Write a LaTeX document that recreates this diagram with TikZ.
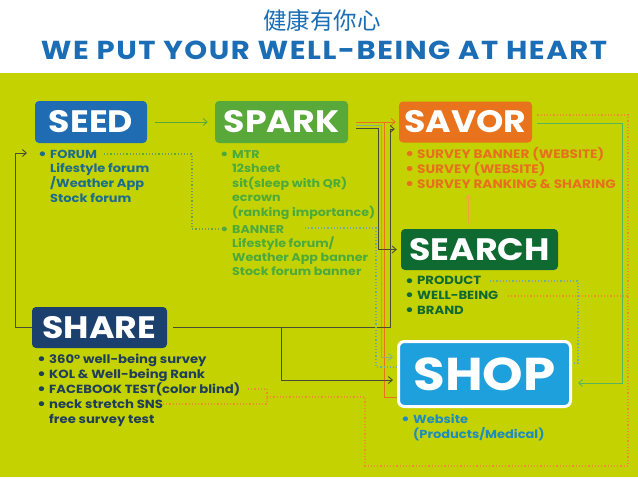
\documentclass[tikz,border=0pt]{standalone}
\usepackage{fontspec}
\setmainfont{Poppins}[FakeStretch=1.12]
\newfontfamily\cjkfont{Noto Sans CJK TC}
\usetikzlibrary{arrows.meta}

\definecolor{panel}{RGB}{197,210,2}
\definecolor{titleblue}{RGB}{27,110,182}
\definecolor{seedblue}{RGB}{31,108,178}
\definecolor{seedtext}{RGB}{28,108,140}
\definecolor{sparkgreen}{RGB}{88,168,58}
\definecolor{sparktext}{RGB}{76,170,60}
\definecolor{savororange}{RGB}{232,115,28}
\definecolor{savortext}{RGB}{230,112,30}
\definecolor{searchgreen}{RGB}{14,106,48}
\definecolor{searchtext}{RGB}{16,104,50}
\definecolor{sharenavy}{RGB}{28,64,110}
\definecolor{sharetext}{RGB}{30,62,90}
\definecolor{shopblue}{RGB}{30,160,220}
\definecolor{shoptext}{RGB}{30,140,190}
\definecolor{darkline}{RGB}{72,76,48}
\definecolor{grayline}{RGB}{135,175,150}
\definecolor{savorgreen}{RGB}{90,180,90}
\definecolor{dotgreen}{RGB}{110,160,70}
\definecolor{orangedot}{RGB}{232,145,40}
\definecolor{orangethin}{RGB}{240,160,60}
\definecolor{tealdot}{RGB}{115,170,160}

\newcommand\itemdot{\makebox[12pt][l]{\raisebox{-0.1em}{\scalebox{1.35}{\textbullet}}}}
\newcommand\itemgap{\hspace*{12pt}}

\tikzset{
  stagebox/.style={rectangle, rounded corners=4pt, text=white, inner sep=0pt, font=\fontsize{31}{31}\selectfont\bfseries},
  itemlist/.style={anchor=base west, align=left, inner sep=0pt, font=\fontsize{11.6}{15}\selectfont\bfseries},
  arrowline/.style={line width=0.9pt, -{Straight Barb[length=4pt,width=7pt]}},
  bareline/.style={line width=0.9pt},
  dotline/.style={dotted, line width=1.2pt}
}

\begin{document}
\begin{tikzpicture}[x=1pt,y=-1pt]
\useasboundingbox (0,0) rectangle (638,479);
\fill[white] (0,0) rectangle (638,479);
\fill[panel] (0,73) rectangle (638,477);

\node[text=titleblue, font=\cjkfont\fontsize{23.5}{23.5}\selectfont] (cntitle) at (322,21) {健康有你心};
\node[text=titleblue, font=\fontsize{26}{26}\selectfont\bfseries\addfontfeatures{LetterSpace=6}] (entitle) at (324,50) {WE PUT YOUR WELL-BEING AT HEART};

\node[stagebox, fill=seedblue, minimum width=112pt, minimum height=42pt] (seed) at (91,122) {SEED};
\node[stagebox, fill=sparkgreen, minimum width=133pt, minimum height=42pt] (spark) at (281.5,122) {SPARK};
\node[stagebox, fill=savororange, minimum width=133pt, minimum height=41pt] (savor) at (465.5,122) {SAVOR};
\node[stagebox, fill=searchgreen, minimum width=157pt, minimum height=41pt] (search) at (479.5,249.5) {SEARCH};
\node[stagebox, fill=sharenavy, minimum width=135pt, minimum height=41pt] (share) at (99.5,327.5) {SHARE};
\node[stagebox, fill=shopblue, draw=white, line width=3pt, rounded corners=6pt, minimum width=172pt, minimum height=65pt, font=\fontsize{46}{46}\selectfont\bfseries] (shop) at (484.5,374) {SHOP};

\node[itemlist, text=seedtext, font=\fontsize{11.6}{14.8}\selectfont\bfseries] (seeditems) at (38,202.4) {\itemdot FORUM\\\itemgap Lifestyle forum\\\itemgap /Weather App\\\itemgap Stock forum};
\node[itemlist, text=sparktext, font=\fontsize{11.3}{14.5}\selectfont\bfseries] (sparkitems) at (220,216) {\itemdot MTR\\\itemgap 12sheet\\\itemgap sit(sleep with QR)\\\itemgap ecrown\\\itemgap (ranking importance)};
\node[itemlist, text=sparktext, font=\fontsize{11.3}{14.3}\selectfont\bfseries] (banneritems) at (220,275.9) {\itemdot BANNER\\\itemgap Lifestyle forum/\\\itemgap Weather App banner\\\itemgap Stock forum banner};
\node[itemlist, text=savortext, font=\fontsize{12.2}{15}\selectfont\bfseries] (savoritems) at (405,188) {\itemdot SURVEY BANNER (WEBSITE)\\\itemdot SURVEY (WEBSITE)\\\itemdot SURVEY RANKING \& SHARING};
\node[itemlist, text=searchtext, font=\fontsize{11.8}{14.8}\selectfont\bfseries] (searchitems) at (405,314.5) {\itemdot PRODUCT\\\itemdot WELL-BEING\\\itemdot BRAND};
\node[itemlist, text=sharetext, font=\fontsize{11.8}{15}\selectfont\bfseries] (shareitems) at (37,423) {\itemdot 360° well-being survey\\\itemdot KOL \& Well-being Rank\\\itemdot FACEBOOK TEST(color blind)\\\itemdot neck stretch SNS\\\itemgap free survey test};
\node[itemlist, text=shoptext] (shopitems) at (401,438) {\itemdot Website\\\itemgap (Products/Medical)};

\coordinate (seedin) at (27,153);
\coordinate (forumend) at (104,154);
\coordinate (bannerdot) at (218,229);
\coordinate (bannerend) at (305,228);
\coordinate (productend) at (490,281);
\coordinate (wellend) at (508,296);
\coordinate (fbend) at (248,389);
\coordinate (snsend) at (163,404);
\coordinate (sharejoin) at (267,397);

\draw[arrowline, sparkgreen] ([xshift=8pt]seed.east) -- ([xshift=-7pt]spark.west);
\draw[arrowline, darkline] (share.west) -- ++(-16,0) |- (seedin);
\draw[dotline, dotgreen] (forumend) -- ++(88,0) |- (bannerdot);
\draw[arrowline, savororange] ([xshift=8pt]spark.east) -- ([xshift=-3pt]savor.west);
\draw[bareline, savororange] ([xshift=36pt]spark.east) |- ([yshift=-23pt]shop.west);
\draw[arrowline, grayline] ([xshift=8pt,yshift=-3pt]spark.east) -- ++(25,0) |- ([xshift=-4pt,yshift=17pt]shop.west);
\draw[arrowline, darkline] ([xshift=8pt,yshift=-6pt]spark.east) -- ++(22,0) |- ([xshift=-4pt]search.west);
\draw[arrowline, darkline] ([xshift=6pt]share.east) -- ++(217,0) |- ([xshift=-4pt,yshift=-7pt]savor.west);
\draw[arrowline, darkline] ([xshift=114pt]share.east) |- ([xshift=-4pt,yshift=-6pt]shop.west);
\draw[arrowline, orangethin, line width=0.6pt] ([xshift=-11pt,yshift=6pt]search.north) -- ++(0,-28);
\draw[arrowline, savorgreen] ([xshift=5pt,yshift=-1pt]savor.east) -- ++(85,0) |- ([xshift=6pt,yshift=-9pt]shop.east);
\draw[dotline, orangedot] (fbend) -| (sharejoin);
\draw[dotline, orangedot] (snsend) -| (sharejoin);
\draw[dotline, orangedot] (sharejoin) -- ++(98,0) |- ++(263,69) |- ([xshift=5pt,yshift=7pt]savor.east);
\draw[dotline, orangedot] (wellend) -- ++(120,0);
\draw[dotline, tealdot] (productend) -- ++(88,0) |- ([xshift=1pt,yshift=11pt]shop.east);
\draw[dotline, tealdot] (bannerend) -- ++(71,0) |- ([yshift=7pt]shop.west);
\end{tikzpicture}
\end{document}
